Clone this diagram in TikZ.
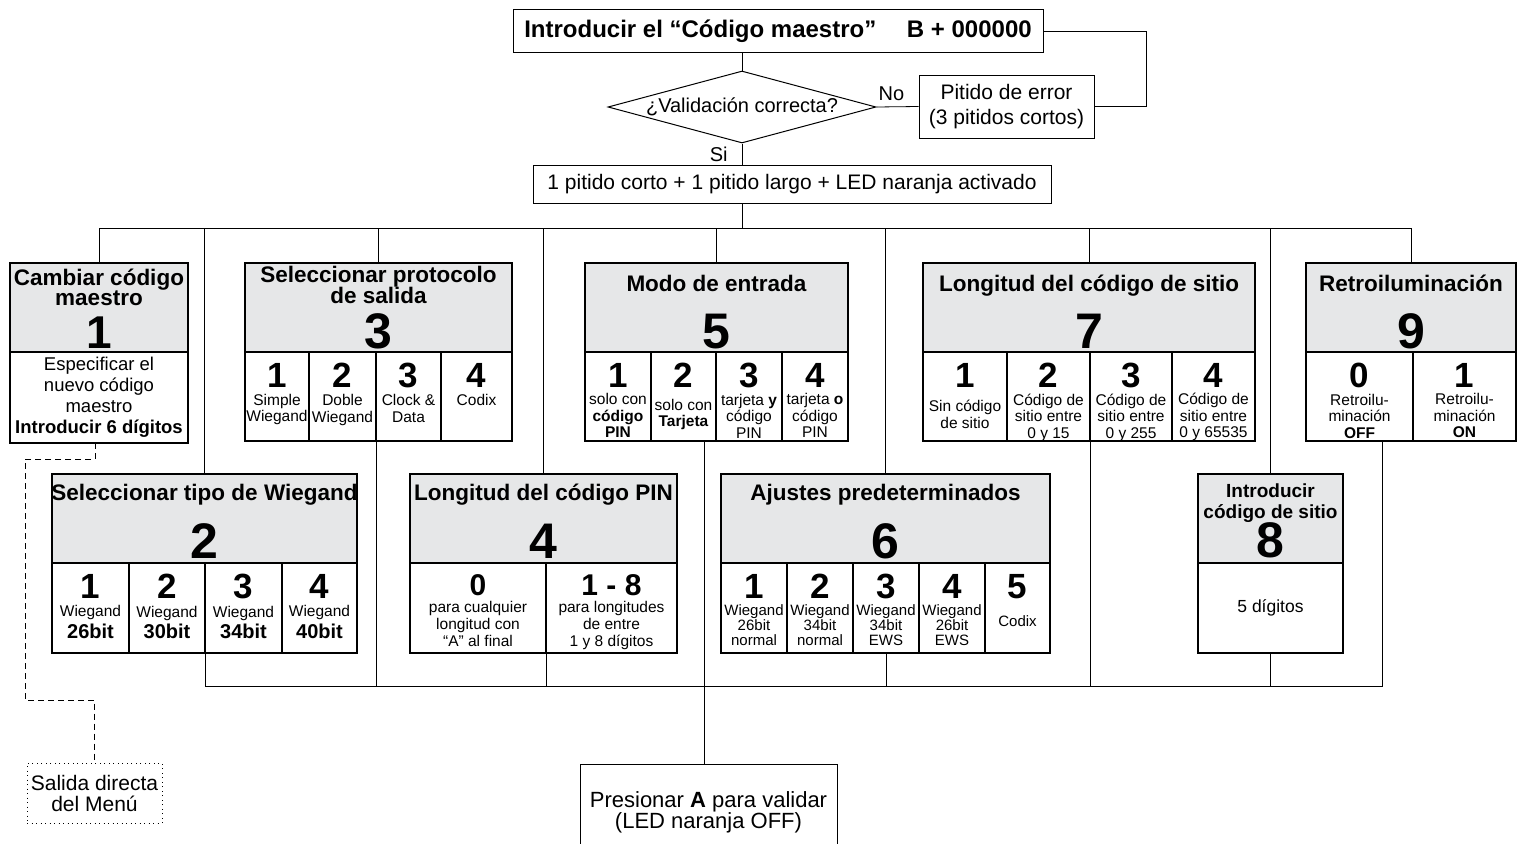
\documentclass[tikz,border=0pt]{standalone}
\usepackage{fontspec}
\setmainfont{Liberation Sans}
\usetikzlibrary{shapes.geometric,positioning}

\definecolor{hdrgray}{RGB}{230,231,232}
\newcommand\fsz[2]{\fontsize{#1}{#2}\selectfont}
\newcommand\cnum[1]{{\bfseries\fsz{35}{35}#1}}
\newcommand\cnumb[1]{{\bfseries\fsz{30}{30}#1}}
\tikzstyle{box}=[draw=black,line width=1.6pt,inner sep=0pt,outer sep=0pt]
\tikzstyle{hdr}=[box,fill=hdrgray,minimum height=89]
\tikzstyle{cell}=[box,align=center]
\tikzstyle{ttl}=[inner sep=0pt,anchor=base,font=\bfseries\fsz{22.5}{22.5}]
\tikzstyle{num}=[inner sep=0pt,anchor=base,font=\bfseries\fsz{50}{50}]
\tikzstyle{optxt}=[inner sep=0pt,anchor=north,align=center,font=\fsz{15.5}{16.5}]
\tikzstyle{plain}=[draw=black,line width=1pt,inner sep=0pt,align=center,font=\fsz{21}{25}]
\tikzstyle{ln}=[line width=0.8pt]
\tikzstyle{r1}=[minimum height=89]
\tikzstyle{r2}=[minimum height=90]

% one option cell: name, placement, width, text style, text
\newcommand\optcell[5]{%
  \node[cell,minimum width=#3,#2] (#1) {};
  \node[optxt,#4] (#1t) at ([yshift=-11pt]#1.north) {#5};}

\begin{document}
\begin{tikzpicture}[x=1pt,y=-1pt]
\useasboundingbox (0,0) rectangle (1517,843);
\clip (0,0) rectangle (1517,843);

% master code check
\node[plain,minimum width=530,minimum height=43,font=\bfseries\fsz{24}{24}] (start) at (778,31.5) {Introducir el “Código maestro”\hspace{1em} B + 000000};
\node[diamond,draw=black,line width=1pt,inner sep=0pt,aspect=3.7,minimum width=268,minimum height=72,font=\fsz{20}{20}] (valid) at (742,107) {¿Validación correcta?};
\node[plain,minimum width=175,minimum height=63] (err) at (1006.5,106.5) {Pitido de error\\(3 pitidos cortos)};
\node[plain,minimum width=518,minimum height=38] (beep) at (792,184) {1 pitido corto + 1 pitido largo + LED naranja activado};

\draw[ln] (valid.north |- start.south) -- (valid.north);
\draw[ln] (valid.east) -- node[above=6pt,xshift=-6pt,inner sep=0pt,font=\fsz{20}{20}] (no) {No} (err.west);
\draw[ln] (err.east) -- ++(52,0) |- (start.east);
\draw[ln] (valid.south) -- node[left=14pt,inner sep=0pt,font=\fsz{20}{20}] (si) {Si} (valid.south |- beep.north);

% box 1
\node[hdr,minimum width=178,anchor=north] (h1) at (99,263) {};
\node[ttl] (t1) at ([yshift=-22pt]h1.north) {Cambiar código};
\node[ttl] (t1b) at ([yshift=-42pt]h1.north) {maestro};
\node[num,font=\bfseries\fsz{46}{46}] (n1) at ([yshift=4pt]h1.south) {1};
\node[cell,minimum width=178,minimum height=91,anchor=north,font=\fsz{18.5}{21}] (c11) at (h1.south) {Especificar el\\nuevo código\\maestro\\\textbf{Introducir 6 dígitos}};

% box 3
\node[hdr,minimum width=267,anchor=north] (h3) at (378.5,263) {};
\node[ttl] (t3) at ([yshift=-19pt]h3.north) {Seleccionar protocolo};
\node[ttl] (t3b) at ([yshift=-40pt]h3.north) {de salida};
\node[num] (n3) at ([yshift=4pt]h3.south) {3};
\optcell{c31}{r1,anchor=north west,at={(h3.south west)}}{64}{}{\cnum{1}\\[1.5pt]Simple\\Wiegand}
\optcell{c32}{r1,right=0pt of c31}{67}{}{\cnum{2}\\[1.5pt]Doble\\Wiegand}
\optcell{c33}{r1,right=0pt of c32}{65}{}{\cnum{3}\\[1.5pt]Clock \&\\Data}
\optcell{c34}{r1,right=0pt of c33}{71}{}{\cnum{4}\\[1.5pt]Codix}

% box 5
\node[hdr,minimum width=263,anchor=north] (h5) at (716.5,263) {};
\node[ttl] (t5) at ([yshift=-28pt]h5.north) {Modo de entrada};
\node[num] (n5) at ([yshift=4pt]h5.south) {5};
\optcell{c51}{r1,anchor=north west,at={(h5.south west)}}{66}{}{\cnum{1}\\[1pt]solo con\\\textbf{código}\\\textbf{PIN}}
\optcell{c52}{r1,right=0pt of c51}{65}{}{\cnum{2}\\[6pt]solo con\\\textbf{Tarjeta}}
\optcell{c53}{r1,right=0pt of c52}{66}{}{\cnum{3}\\[1pt]tarjeta \textbf{y}\\código\\PIN}
\optcell{c54}{r1,right=0pt of c53}{66}{}{\cnum{4}\\[1pt]tarjeta \textbf{o}\\código\\PIN}

% box 7
\node[hdr,minimum width=332,anchor=north] (h7) at (1089,263) {};
\node[ttl] (t7) at ([yshift=-28pt]h7.north) {Longitud del código de sitio};
\node[num] (n7) at ([yshift=4pt]h7.south) {7};
\optcell{c71}{r1,anchor=north west,at={(h7.south west)}}{84}{}{\cnum{1}\\[8pt]Sin código\\de sitio}
\optcell{c72}{r1,right=0pt of c71}{83}{}{\cnum{2}\\[1pt]Código de\\sitio entre\\0 y 15}
\optcell{c73}{r1,right=0pt of c72}{82}{}{\cnum{3}\\[1pt]Código de\\sitio entre\\0 y 255}
\optcell{c74}{r1,right=0pt of c73}{83}{}{\cnum{4}\\[1pt]Código de\\sitio entre\\0 y 65535}

% box 9
\node[hdr,minimum width=210,anchor=north] (h9) at (1411,263) {};
\node[ttl] (t9) at ([yshift=-28pt]h9.north) {Retroiluminación};
\node[num] (n9) at ([yshift=4pt]h9.south) {9};
\optcell{c91}{r1,anchor=north west,at={(h9.south west)}}{107}{}{\cnum{0}\\[1pt]Retroilu-\\minación\\\textbf{OFF}}
\optcell{c92}{r1,right=0pt of c91}{103}{}{\cnum{1}\\[1pt]Retroilu-\\minación\\\textbf{ON}}

% box 2
\node[hdr,minimum width=305,anchor=north] (h2) at (204.5,474) {};
\node[ttl] (t2) at ([yshift=-26pt]h2.north) {Seleccionar tipo de Wiegand};
\node[num] (n2) at ([yshift=5pt]h2.south) {2};
\optcell{c21}{r2,anchor=north west,at={(h2.south west)}}{77}{}{\cnum{1}\\[2pt]Wiegand\\[3pt]\textbf{\fsz{20}{20}26bit}}
\optcell{c22}{r2,right=0pt of c21}{76}{}{\cnum{2}\\[2pt]Wiegand\\[3pt]\textbf{\fsz{20}{20}30bit}}
\optcell{c23}{r2,right=0pt of c22}{77}{}{\cnum{3}\\[2pt]Wiegand\\[3pt]\textbf{\fsz{20}{20}34bit}}
\optcell{c24}{r2,right=0pt of c23}{75}{}{\cnum{4}\\[2pt]Wiegand\\[3pt]\textbf{\fsz{20}{20}40bit}}

% box 4
\node[hdr,minimum width=267,anchor=north] (h4) at (543.5,474) {};
\node[ttl] (t4) at ([yshift=-26pt]h4.north) {Longitud del código PIN};
\node[num] (n4) at ([yshift=5pt]h4.south) {4};
\optcell{c41}{r2,anchor=north west,at={(h4.south west)}}{136}{font=\fsz{15.5}{17}}{\cnumb{0}\\para cualquier\\longitud con\\“A” al final}
\optcell{c42}{r2,right=0pt of c41}{131}{font=\fsz{15.5}{17}}{\cnumb{1 - 8}\\para longitudes\\de entre\\1 y 8 dígitos}

% box 6
\node[hdr,minimum width=329,anchor=north] (h6) at (885.5,474) {};
\node[ttl] (t6) at ([yshift=-26pt]h6.north) {Ajustes predeterminados};
\node[num] (n6) at ([yshift=5pt]h6.south) {6};
\optcell{c61}{r2,anchor=north west,at={(h6.south west)}}{66}{font=\fsz{15}{15}}{\cnum{1}\\[2pt]Wiegand\\26bit\\normal}
\optcell{c62}{r2,right=0pt of c61}{66}{font=\fsz{15}{15}}{\cnum{2}\\[2pt]Wiegand\\34bit\\normal}
\optcell{c63}{r2,right=0pt of c62}{66}{font=\fsz{15}{15}}{\cnum{3}\\[2pt]Wiegand\\34bit\\EWS}
\optcell{c64}{r2,right=0pt of c63}{66}{font=\fsz{15}{15}}{\cnum{4}\\[2pt]Wiegand\\26bit\\EWS}
\optcell{c65}{r2,right=0pt of c64}{65}{font=\fsz{15}{15}}{\cnum{5}\\[13pt]Codix}

% box 8
\node[hdr,minimum width=145,anchor=north] (h8) at (1270.5,474) {};
\node[ttl,font=\bfseries\fsz{19}{19}] (t8) at ([yshift=-23pt]h8.north) {Introducir};
\node[ttl,font=\bfseries\fsz{19}{19}] (t8b) at ([yshift=-44pt]h8.north) {código de sitio};
\node[num] (n8) at ([yshift=6pt]h8.south) {8};
\node[cell,r2,minimum width=145,anchor=north,font=\fsz{17.5}{20}] (c81) at (h8.south) {5 dígitos};

% exits
\node[plain,minimum width=257,minimum height=96,anchor=north,font=\fsz{22}{21}] (pres) at (708.5,764) {Presionar \textbf{A} para validar\\(LED naranja OFF)};
\node[draw=black,line width=1pt,dash pattern=on 1pt off 3.5pt,inner sep=0pt,minimum width=135,minimum height=60,align=center,font=\fsz{21}{21}] (exit) at (94.5,793) {Salida directa\\del Menú};

% upper bus
\coordinate (bus) at (742,228);
\draw[ln] (valid.south |- beep.south) -- (bus);
\draw[ln] (h1.north |- bus) -- (h9.north |- bus);
\foreach \k in {1,...,9}
  \draw[ln] (h\k.north |- bus) -- (h\k.north);

% lower bus
\coordinate (lbus) at (0,686);
\draw[ln] ([xshift=-31pt]c91.south east) |- (c22.south east |- lbus) -- (c22.south east);
\foreach \p in {c32.south east,c41.south east,c63.south,c72.south east,c81.south}
  \draw[ln] (\p) -- (\p |- lbus);
\draw[ln] ([xshift=-12pt]c52.south east) -- ([xshift=-12pt]c52.south east |- pres.north);

\draw[ln,dash pattern=on 6pt off 4pt] ([xshift=-4pt]c11.south) -- ++(0,16) -| (25,700) -| (exit.north);
\end{tikzpicture}
\end{document}
